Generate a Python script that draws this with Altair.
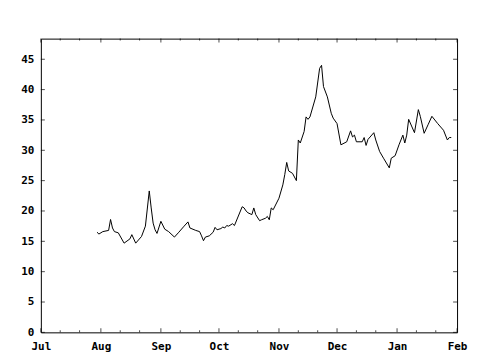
import altair as alt
import pandas as pd

# ---- data ----
dates = [
    "2003-07-30", "2003-07-31", "2003-08-02", "2003-08-05", "2003-08-06", "2003-08-07",
    "2003-08-08", "2003-08-10", "2003-08-13", "2003-08-16", "2003-08-17", "2003-08-19",
    "2003-08-22", "2003-08-24", "2003-08-26", "2003-08-27", "2003-08-28", "2003-08-29",
    "2003-08-30", "2003-09-01", "2003-09-03", "2003-09-05", "2003-09-08", "2003-09-10",
    "2003-09-13", "2003-09-15", "2003-09-16", "2003-09-19", "2003-09-21", "2003-09-22",
    "2003-09-23", "2003-09-24", "2003-09-26", "2003-09-28", "2003-09-29", "2003-09-30",
    "2003-10-02", "2003-10-03", "2003-10-04", "2003-10-05", "2003-10-06", "2003-10-08",
    "2003-10-09", "2003-10-13", "2003-10-14", "2003-10-15", "2003-10-16", "2003-10-18",
    "2003-10-19", "2003-10-20", "2003-10-22", "2003-10-23", "2003-10-25", "2003-10-26",
    "2003-10-27", "2003-10-28", "2003-10-29", "2003-11-01", "2003-11-03", "2003-11-04",
    "2003-11-05", "2003-11-06", "2003-11-08", "2003-11-10", "2003-11-11", "2003-11-12",
    "2003-11-14", "2003-11-15", "2003-11-16", "2003-11-17", "2003-11-20", "2003-11-22",
    "2003-11-23", "2003-11-24", "2003-11-26", "2003-11-28", "2003-11-29", "2003-12-01",
    "2003-12-03", "2003-12-06", "2003-12-08", "2003-12-09", "2003-12-10", "2003-12-11",
    "2003-12-14", "2003-12-15", "2003-12-16", "2003-12-17", "2003-12-20", "2003-12-21",
    "2003-12-23", "2003-12-25", "2003-12-28", "2003-12-29", "2003-12-31", "2004-01-02",
    "2004-01-04", "2004-01-05", "2004-01-06", "2004-01-07", "2004-01-10", "2004-01-12",
    "2004-01-13", "2004-01-15", "2004-01-17", "2004-01-19", "2004-01-22", "2004-01-25",
    "2004-01-27", "2004-01-28", "2004-01-29",
]
values = [
    16.5, 16.2, 16.6, 16.8, 18.6, 17.2,
    16.6, 16.4, 14.7, 15.4, 16.1, 14.7,
    15.8, 17.5, 23.3, 20.5, 18.0, 16.9,
    16.3, 18.3, 17.0, 16.6, 15.7, 16.4,
    17.5, 18.2, 17.2, 16.8, 16.6, 15.9,
    15.1, 15.7, 15.9, 16.5, 17.3, 16.9,
    17.1, 17.35, 17.2, 17.6, 17.5, 17.9,
    17.6, 20.7, 20.5, 20.0, 19.7, 19.4,
    20.5, 19.4, 18.4, 18.55, 18.8, 19.1,
    18.55, 20.5, 20.2, 22.1, 24.3, 26.0,
    28.0, 26.6, 26.2, 25.0, 31.7, 31.2,
    33.1, 35.5, 35.1, 35.5, 38.8, 43.5,
    44.0, 40.5, 38.8, 36.1, 35.3, 34.4,
    30.9, 31.4, 33.2, 32.2, 32.5, 31.4,
    31.4, 32.1, 30.8, 31.8, 32.9, 31.7,
    29.8, 28.7, 27.1, 28.7, 29.1, 30.9,
    32.5, 31.2, 32.5, 35.1, 32.9, 36.7,
    35.6, 32.8, 34.2, 35.6, 34.4, 33.3,
    31.7, 32.1, 32.1,
]
month_starts = ["2003-07-01", "2003-08-01", "2003-09-01", "2003-10-01",
                "2003-11-01", "2003-12-01", "2004-01-01", "2004-02-01"]
minor_ticks = ["2003-07-11", "2003-07-21", "2003-08-11", "2003-08-21",
               "2003-09-11", "2003-09-21", "2003-10-11", "2003-10-21",
               "2003-11-11", "2003-11-21", "2003-12-11", "2003-12-21",
               "2004-01-11", "2004-01-21"]
y_ticks = [0, 5, 10, 15, 20, 25, 30, 35, 40, 45]
y_max = 48.4

W, H = 418, 295
FONT = "DejaVu Sans Mono"


def ms(s):
    return int(pd.Timestamp(s, tz="UTC").value // 10**6)


df = pd.DataFrame({"date": dates, "value": values})
major_df = pd.DataFrame({"date": month_starts})
minor_df = pd.DataFrame({"date": minor_ticks})
ytick_df = pd.DataFrame({"v": y_ticks})

x_domain = [ms(month_starts[0]), ms(month_starts[-1])]
xscale = alt.Scale(type="utc", domain=x_domain, nice=False)
yscale = alt.Scale(domain=[0, y_max], nice=False, zero=True)

label_style = dict(labelFont=FONT, labelFontSize=11, labelFontWeight="bold",
                   labelColor="black")

x_axis = alt.Axis(values=[ms(s) for s in month_starts], format="%b",
                  title=None, ticks=False, domain=False, grid=False,
                  labelPadding=8, labelFlush=False, labelOverlap=False,
                  **label_style)
y_axis = alt.Axis(values=y_ticks, title=None, ticks=False, domain=False,
                  grid=False, labelPadding=7, minExtent=33, maxExtent=33,
                  **label_style)

line = alt.Chart(df).mark_line(color="black", strokeWidth=1).encode(
    x=alt.X("date:T", scale=xscale, axis=x_axis),
    y=alt.Y("value:Q", scale=yscale, axis=y_axis),
)


def xticks(data, ydatum, size, off):
    return alt.Chart(data).mark_tick(orient="vertical", size=size, thickness=1,
                                     yOffset=off, color="black").encode(
        x=alt.X("date:T", scale=xscale, axis=x_axis),
        y=alt.YDatum(ydatum, type="quantitative", scale=yscale, axis=y_axis),
    )


def yticks(xdatum, off):
    return alt.Chart(ytick_df).mark_tick(orient="horizontal", size=4, thickness=1,
                                         xOffset=off, color="black").encode(
        x=alt.XDatum(xdatum, type="temporal", scale=xscale, axis=x_axis),
        y=alt.Y("v:Q", scale=yscale, axis=y_axis),
    )


chart = alt.layer(
    line,
    xticks(major_df, 0, 4, -2),
    xticks(major_df, y_max, 4, 2),
    xticks(minor_df, 0, 2, -1),
    xticks(minor_df, y_max, 2, 1),
    yticks(x_domain[0], 2),
    yticks(x_domain[1], -2),
).properties(
    width=W, height=H,
    padding={"left": 0, "top": 30, "right": 5, "bottom": 5},
    background="white",
).configure_view(stroke="black", strokeWidth=1)

chart.save("out.html", embed_options={"renderer": "svg", "actions": False})
